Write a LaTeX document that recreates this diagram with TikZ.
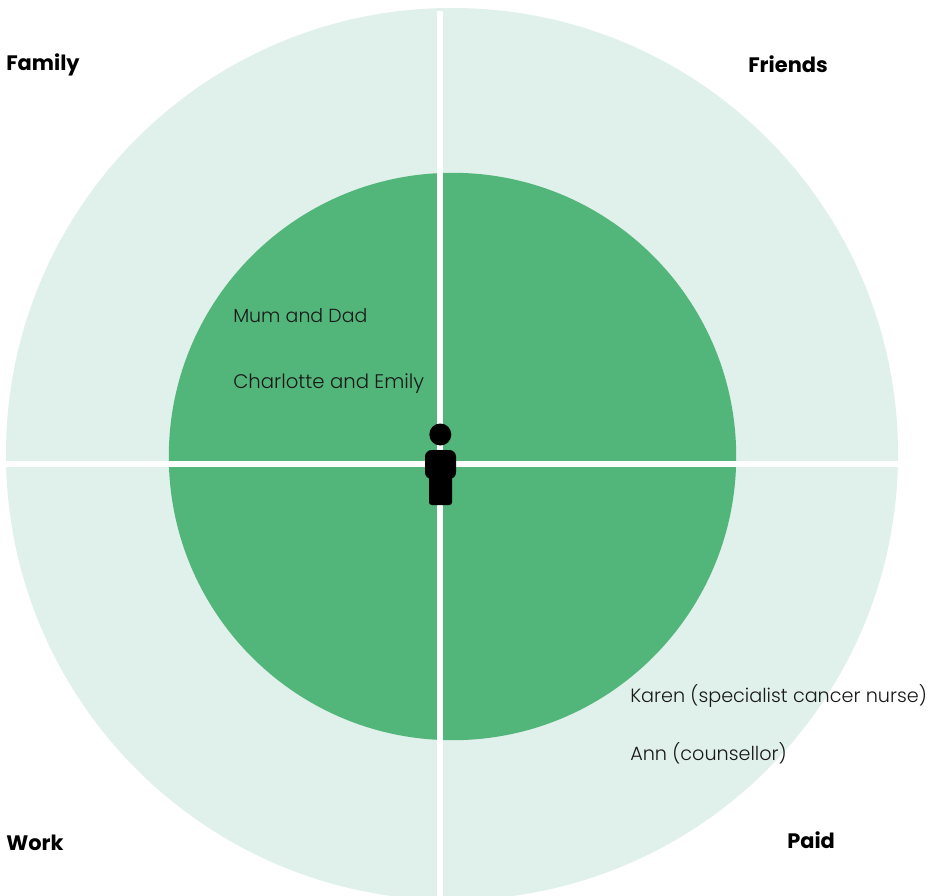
\documentclass[tikz,border=0pt]{standalone}
\usepackage{fontspec}
\setmainfont{Poppins}[UprightFont=* Light,BoldFont=* Bold]
\definecolor{paleg}{HTML}{E0F0EA}
\definecolor{midg}{HTML}{52B57A}
\tikzset{
  x=0.75pt,y=-0.75pt,
  thin label/.style={anchor=base west,inner sep=0pt,font=\fontsize{14.4pt}{16pt}\selectfont,text=black!90},
  head label/.style={anchor=base west,inner sep=0pt,font=\fontsize{15.7pt}{18pt}\selectfont\bfseries,text=black},
  divider/.style={white,line width=4.5pt,line cap=butt}
}
\begin{document}
\begin{tikzpicture}
\useasboundingbox (0,0) rectangle (936,896);
\clip (0,0) rectangle (936,896);
\fill[white] (0,0) rectangle (936,896);
\fill[paleg] (452,454) circle[radius=446];
\fill[midg] (452.5,456.5) circle[radius=283.7];
\coordinate (vtop) at (440,11);
\coordinate (vbot) at (440,896);
\coordinate (hl) at (6,464);
\coordinate (hr) at (898,464);
\draw[divider] (vtop) -- (vbot);
\draw[divider] (hl) -- (hr);
% person
\fill[black] (440.3,434.5) circle[radius=11];
\fill[black,rounded corners=5pt] (425,450) rectangle (456,479);
\fill[black,rounded corners=2pt] (429,470) rectangle (452,505);
% labels
\node[head label] (family) at (6,70) {Family};
\node[head label] (friends) at (748,72) {Friends};
\node[head label] (work) at (6,850) {Work};
\node[head label] (paid) at (787,848) {Paid};
\node[thin label,font=\fontsize{14.2pt}{16pt}\selectfont] (mum) at (233,322.5) {Mum and Dad};
\node[thin label,font=\fontsize{14.75pt}{16pt}\selectfont] (charlotte) at (233,388.5) {Charlotte and Emily};
\node[thin label] (karen) at (630,702.5) {Karen (specialist cancer nurse)};
\node[thin label] (ann) at (630,760.5) {Ann (counsellor)};
\end{tikzpicture}
\end{document}
